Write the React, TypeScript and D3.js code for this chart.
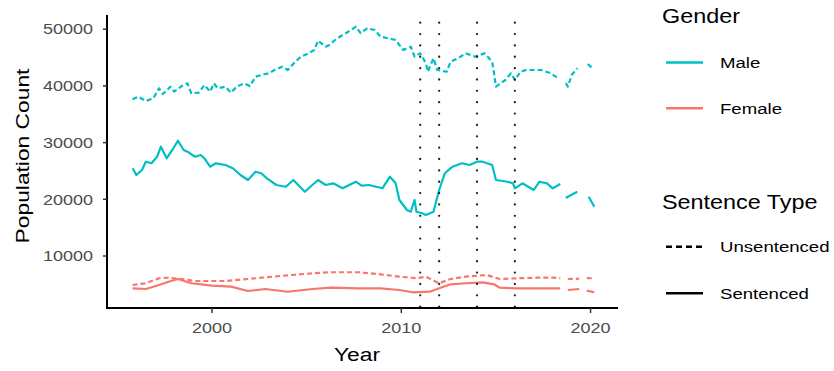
import React from "react";
import * as d3 from "d3";

// ---- data ----
const maleUnsYears = [1995.8,1996.1,1996.5,1996.9,1997.2,1997.4,1997.8,1998.0,1998.4,1998.7,1998.9,1999.3,1999.6,1999.9,2000.1,2000.3,2000.7,2001.0,2001.3,2001.7,2002.0,2002.3,2002.6,2003.0,2003.3,2003.7,2004.0,2004.4,2004.7,2005.1,2005.4,2005.6,2006.0,2006.2,2006.5,2006.9,2007.2,2007.6,2007.85,2008.2,2008.6,2008.9,2009.3,2009.7,2010.1,2010.5,2010.7,2011.0,2011.3,2011.4,2011.7,2011.9,2012.4,2012.6,2013.0,2013.4,2013.9,2014.4,2014.8,2014.9,2015.0,2015.5,2015.8,2016.0,2016.3,2016.6,2017.0,2017.4,2017.9,2018.3,2018.5,2018.7,2018.8,2019.0,2019.3,2019.6,2019.85,2020.1];
const maleUnsValues = [37640,38100,37340,37810,39580,38570,39860,38980,39980,40460,38700,38800,40160,38980,40460,39580,39860,38800,39860,40460,39980,41620,41920,42220,42800,43390,42800,44270,45150,45750,46330,47970,46910,47210,48100,48980,49560,50440,49300,50160,49860,48680,48400,48100,46330,46910,45150,45750,43990,42500,44870,42800,42500,44270,44870,45750,45150,45750,44270,42220,39860,41040,42220,41040,42500,42800,42800,42800,42220,41340,null,40500,39860,41920,43100,null,43860,43100];

const maleSenYears = [1995.8,1996.0,1996.3,1996.5,1996.8,1997.1,1997.3,1997.6,1997.9,1998.2,1998.5,1998.7,1999.1,1999.4,1999.6,1999.9,2000.2,2000.7,2001.1,2001.5,2001.9,2002.3,2002.6,2002.9,2003.4,2003.9,2004.3,2004.9,2005.3,2005.6,2006.0,2006.4,2006.9,2007.6,2007.9,2008.3,2009.0,2009.4,2009.7,2009.9,2010.3,2010.5,2010.7,2010.8,2011.1,2011.3,2011.7,2012.0,2012.3,2012.7,2013.2,2013.6,2014.0,2014.3,2014.8,2015.0,2015.6,2015.9,2016.0,2016.4,2017.0,2017.3,2017.7,2018.0,2018.4,2018.55,2018.7,2018.8,2019.3,2019.6,2019.9,2020.2];
const maleSenValues = [25470,24290,25170,26630,26350,27510,29280,27230,28700,30330,28700,28400,27510,27810,27230,25750,26350,26050,25470,24290,23400,24870,24590,23700,22520,22220,23400,21340,22520,23400,22520,22820,21940,23100,22400,22520,21940,23990,22820,19880,18110,17810,19880,17810,17530,17230,17810,21640,24590,25750,26350,26050,26630,26630,26050,23400,23100,22820,21940,22820,21640,23100,22820,21940,22700,null,20200,20460,21340,null,20460,18700];

const femUnsYears = [1995.8,1996.5,1997.2,1997.7,1998.4,1999.1,2000.7,2001.9,2003.2,2004.2,2005.3,2006.3,2007.7,2008.9,2009.9,2010.8,2011.3,2012.0,2012.6,2013.4,2014.5,2015.2,2016.1,2017.2,2018.0,2018.4,2018.55,2018.8,2019.4,2019.6,2019.8,2020.1];
const femUnsValues = [4890,5190,6070,6170,5940,5590,5590,5940,6350,6650,6950,7130,7130,6770,6350,6070,6350,5190,5940,6350,6650,5940,6070,6170,6170,6100,null,5940,6000,null,6100,6070];

const femSenYears = [1995.8,1996.5,1997.2,1997.7,1998.2,1998.9,2000.0,2001.0,2001.9,2002.8,2004.0,2005.3,2006.3,2007.7,2008.9,2009.9,2010.6,2011.5,2012.0,2012.6,2013.4,2014.3,2014.9,2015.2,2016.1,2017.3,2018.4,2018.55,2018.8,2019.4,2019.6,2019.8,2020.2];
const femSenValues = [4300,4180,4890,5470,5940,5190,4760,4590,3830,4180,3700,4180,4410,4300,4300,4000,3600,3700,4300,5010,5190,5360,5010,4410,4300,4300,4300,null,4000,4180,null,3900,3600];

const eventYears = [2011, 2012, 2014, 2016];
const yTicks = [10000, 20000, 30000, 40000, 50000];
const xTicks = [2000, 2010, 2020];
const genderLabels = ["Male", "Female"];
const typeLabels = ["Unsentenced", "Sentenced"];

const MALE = "#00BFC4";
const FEMALE = "#F8766D";
const FONT = "'Liberation Sans', Arial, Helvetica, sans-serif";
const SX = 1.2;

function T({ x, y, children, anchor = "start", size = 15, fill = "#000", rotate = 0 }: any) {
  return (
    <text
      transform={`translate(${x},${y}) rotate(${rotate}) scale(${SX},1)`}
      textAnchor={anchor}
      fontSize={size}
      fill={fill}
      fontFamily={FONT}
    >
      {children}
    </text>
  );
}

export default function App() {
  const W = 834, H = 371;
  const x = d3.scaleLinear().domain([1994.45, 2021.45]).range([107, 618]);
  const y = d3.scaleLinear().domain([829, 52504]).range([308, 15]);

  const mk = (ys: number[], vs: (number | null)[]) =>
    ys.map((yr, i) => ({ yr, v: vs[i] }));
  const line = d3
    .line<{ yr: number; v: number | null }>()
    .defined((d) => d.v !== null)
    .x((d) => x(d.yr))
    .y((d) => y(d.v as number));

  const series = [
    { data: mk(maleUnsYears, maleUnsValues), color: MALE, dash: "5,3" },
    { data: mk(maleSenYears, maleSenValues), color: MALE, dash: null },
    { data: mk(femUnsYears, femUnsValues), color: FEMALE, dash: "5,3" },
    { data: mk(femSenYears, femSenValues), color: FEMALE, dash: null },
  ];

  return (
    <svg width={W} height={H} style={{ position: "absolute", left: 0, top: 0, background: "#fff" }}>
      <rect width={W} height={H} fill="#fff" />
      {series.map((s, i) => (
        <path
          key={i}
          d={line(s.data as any) || ""}
          fill="none"
          stroke={s.color}
          strokeWidth={2.2}
          strokeDasharray={s.dash || undefined}
          strokeLinejoin="round"
        />
      ))}
      {eventYears.map((yr) => (
        <line
          key={yr}
          x1={x(yr)}
          x2={x(yr)}
          y1={306.7}
          y2={15}
          stroke="#222"
          strokeWidth={2.3}
          strokeLinecap="round"
          strokeDasharray="0.01,11.35"
        />
      ))}
      {/* axes */}
      <line x1={107} x2={107} y1={15} y2={309} stroke="#000" strokeWidth={2} />
      <line x1={106} x2={618} y1={308} y2={308} stroke="#000" strokeWidth={2} />
      {yTicks.map((t) => (
        <g key={t}>
          <line x1={103} x2={107} y1={y(t)} y2={y(t)} stroke="#333" strokeWidth={1.5} />
          <T x={93} y={y(t) + 5.3} anchor="end" size={15} fill="#4D4D4D">
            {t}
          </T>
        </g>
      ))}
      {xTicks.map((t) => (
        <g key={t}>
          <line x1={x(t)} x2={x(t)} y1={308} y2={313} stroke="#333" strokeWidth={1.5} />
          <T x={x(t)} y={333} anchor="middle" size={15} fill="#4D4D4D">
            {t}
          </T>
        </g>
      ))}
      <T x={357} y={361} anchor="middle" size={19}>Year</T>
      <T x={29} y={156} anchor="middle" size={19} rotate={-90}>Population Count</T>

      {/* legend */}
      <T x={662} y={22.5} size={19.5}>Gender</T>
      {genderLabels.map((g, i) => {
        const ly = 62.5 + i * 45.8;
        return (
          <g key={g}>
            <line x1={666} x2={703} y1={ly} y2={ly} stroke={i === 0 ? MALE : FEMALE} strokeWidth={2.5} />
            <T x={720} y={ly + 5.5} size={15.5}>{g}</T>
          </g>
        );
      })}
      <T x={662} y={209} size={19.5}>Sentence Type</T>
      {typeLabels.map((g, i) => {
        const ly = 246.7 + i * 46.6;
        return (
          <g key={g}>
            <line x1={666} x2={703} y1={ly} y2={ly} stroke="#000" strokeWidth={2.5} strokeDasharray={i === 0 ? "6,4" : undefined} />
            <T x={720} y={ly + 5.5} size={15.5}>{g}</T>
          </g>
        );
      })}
    </svg>
  );
}
